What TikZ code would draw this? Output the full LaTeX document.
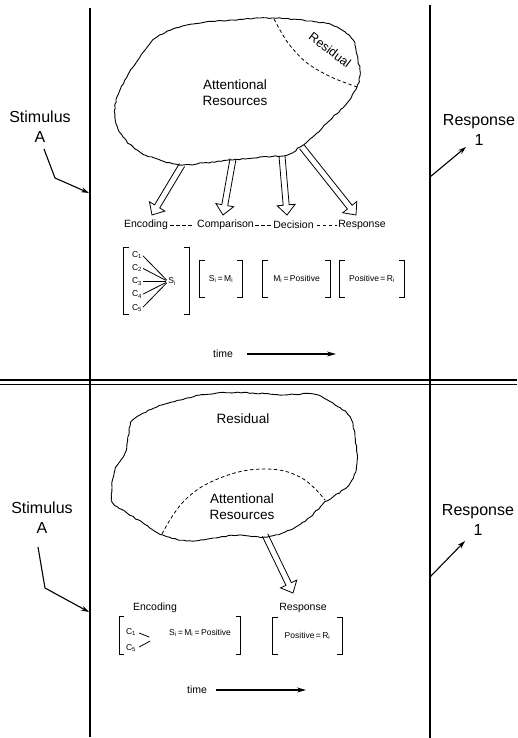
\documentclass[tikz,border=0pt]{standalone}
\usepackage{fontspec}
\setmainfont{Liberation Sans}
\usetikzlibrary{arrows.meta,calc,positioning,decorations.pathmorphing}

\newcommand{\sbs}[1]{\textsubscript{#1}}
\newcommand{\brk}[1]{%
  \draw[brkline] ([xshift=5pt]#1.north west) -| (#1.south west) -- ++(5pt,0);
  \draw[brkline] ([xshift=-5pt]#1.north east) -| (#1.south east) -- ++(-5pt,0);}

\tikzset{
  big/.style={font=\fontsize{16}{20}\selectfont, align=center, inner sep=0pt},
  mid/.style={font=\fontsize{13.5}{16}\selectfont, align=center, inner sep=0pt},
  lab/.style={font=\fontsize{10.5}{12}\selectfont, inner sep=0pt},
  small/.style={font=\fontsize{8.5}{10}\selectfont, inner sep=0pt},
  frame/.style={line width=1.1pt},
  brkline/.style={line width=1pt},
  pointer/.style={line width=1.1pt, -{Stealth[length=8pt,width=5pt]}},
  cloudline/.style={line width=0.9pt, line join=round, decorate,
    decoration={random steps, segment length=3pt, amplitude=0.6pt}},
  dashline/.style={line width=0.8pt, dash pattern=on 3.5pt off 2.5pt},
  hollowarrow/.style={line width=0.8pt, line join=miter, to path={
    let \p1=(\tikztostart), \p2=(\tikztotarget),
        \n1={atan2(\y2-\y1,\x2-\x1)}, \n2={veclen(\x2-\x1,\y2-\y1)} in
    ($(\p1)+(\n1+90:3pt)$) -- ($(\p1)+(\n1:\n2-10pt)+(\n1+90:3pt)$)
    -- ($(\p1)+(\n1:\n2-10pt)+(\n1+90:9pt)$) -- (\p2)
    -- ($(\p1)+(\n1:\n2-10pt)+(\n1-90:9pt)$)
    -- ($(\p1)+(\n1:\n2-10pt)+(\n1-90:3pt)$) -- ($(\p1)+(\n1-90:3pt)$)}}
}

\begin{document}
\begin{tikzpicture}[x=1pt, y=-1pt]
  \pgfmathsetseed{11}
  \useasboundingbox (0,0) rectangle (517,738);

  % frame
  \draw[frame] (90,8) -- (90,737);
  \draw[frame] (430,5) -- (430,738);
  \draw[line width=1.2pt] (0,380) -- (517,380);
  \draw[line width=0.9pt] (0,384.5) -- (517,384.5);

  % ---- upper panel ----
  \draw[cloudline] plot[smooth cycle, tension=0.6] coordinates {
    (157,37) (187,25) (233,20) (273,18) (317,22) (337,27) (353,40)
    (358,60) (360,73) (357,87) (347,103) (333,117) (317,133) (300,147)
    (287,155) (260,157) (233,160) (203,163) (182,165) (160,160)
    (140,152) (123,137) (115,117) (117,97) (127,77) (140,57)};
  \draw[dashline] plot[smooth] coordinates {(274,19) (288,43) (307,63) (331,77) (357,87)};
  \node[font=\fontsize{12.5}{14}\selectfont, inner sep=0pt, rotate=-37] (resid1) at (330,50) {Residual};
  \node[mid] (attn1) at (235,93) {Attentional\\Resources};

  \node[big] (stim1) at (40,127) {Stimulus\\A};
  \node[big] (resp1) at (479,130) {Response\\1};
  \coordinate (s1a) at (44,149);
  \coordinate (s1b) at (55,178);
  \coordinate (s1c) at (89,193);
  \draw[pointer] (s1a) -- (s1b) -- (s1c);
  \coordinate (r1a) at (430,177);
  \coordinate (r1b) at (466,147);
  \draw[pointer] (r1a) -- (r1b);

  \node[lab] (enc1) at (146,225) {Encoding};
  \node[lab] (cmp1) at (225.5,225) {Comparison};
  \node[lab] (dec1) at (293.5,225) {Decision};
  \node[lab] (rsp1) at (362,225) {Response};
  \draw[dashline] ([xshift=2pt]enc1.east) -- ([xshift=-3pt]cmp1.west);
  \draw[dashline] ([xshift=1pt]cmp1.east) -- ([xshift=-1pt]dec1.west);
  \draw[dashline] ([xshift=3pt]dec1.east) -- ([xshift=-1pt]rsp1.west);

  \coordinate (h1s) at (182,165);
  \coordinate (h1e) at (152,215);
  \coordinate (h2s) at (233,159);
  \coordinate (h2e) at (223,215);
  \coordinate (h3s) at (282,156);
  \coordinate (h3e) at (287,215);
  \coordinate (h4s) at (302,147);
  \coordinate (h4e) at (356,215);
  \draw[hollowarrow] (h1s) to (h1e);
  \draw[hollowarrow] (h2s) to (h2e);
  \draw[hollowarrow] (h3s) to (h3e);
  \draw[hollowarrow] (h4s) to (h4e);

  \node[inner sep=0pt, minimum width=65pt, minimum height=66pt] (b1) at (156.5,281) {};
  \foreach \k/\y in {1/255,2/268,3/281.5,4/294.5,5/308}
    \node[small] (c\k) at (137,\y) {C\sbs{\k}};
  \node[small] (si) at (172,281.5) {S\sbs{i}};
  \foreach \k in {1,...,5}
    \draw[line width=0.8pt, shorten <=1pt, shorten >=2pt] (c\k.east) -- (si.west);
  \node[small, minimum width=42pt, minimum height=37pt] (b2) at (221,279) {S\sbs{i}\,=\,M\sbs{i}};
  \node[small, minimum width=67pt, minimum height=37pt] (b3) at (296.5,279) {M\sbs{i}\,=\,Positive};
  \node[small, minimum width=64pt, minimum height=37pt] (b4) at (372,279) {Positive\,=\,R\sbs{i}};
  \brk{b1} \brk{b2} \brk{b3} \brk{b4}

  \node[lab] (time1) at (223,354) {time};
  \coordinate (time1end) at (336,354);
  \draw[line width=1.1pt, -{Stealth[length=9pt,width=5pt]}] ([xshift=14pt]time1.east) -- (time1end);

  % ---- lower panel ----
  \draw[cloudline] plot[smooth cycle, tension=0.6] coordinates {
    (133,420) (157,407) (187,398) (217,393) (253,393) (283,395) (313,394)
    (333,403) (350,417) (355,437) (357,463) (350,483) (333,497)
    (325,502) (310,517) (290,530) (267,537) (240,535) (213,538)
    (187,541) (163,535) (143,523) (127,513) (113,503) (112,487)
    (115,470) (125,453) (128,437)};
  \draw[dashline] plot[smooth, tension=0.7] coordinates {(162,534) (185,500) (220,478) (263,469) (300,477) (325,500)};
  \node[mid] (resid2) at (243,419) {Residual};
  \node[mid] (attn2) at (242,507) {Attentional\\Resources};

  \node[big] (stim2) at (42,518) {Stimulus\\A};
  \node[big] (resp2) at (478,520) {Response\\1};
  \coordinate (s2a) at (38,547);
  \coordinate (s2b) at (45,588);
  \coordinate (s2c) at (89,612);
  \draw[pointer] (s2a) -- (s2b) -- (s2c);
  \coordinate (r2a) at (430,577);
  \coordinate (r2b) at (465,541);
  \draw[pointer] (r2a) -- (r2b);

  \coordinate (h5s) at (265,535);
  \coordinate (h5e) at (293,593);
  \draw[hollowarrow] (h5s) to (h5e);

  \node[lab] (enc2) at (155,608) {Encoding};
  \node[lab] (rsp2) at (303,608) {Response};
  \node[inner sep=0pt, minimum width=121pt, minimum height=37pt] (b5) at (180,635.5) {};
  \node[small] (ca) at (131,632) {C\sbs{1}};
  \node[small] (cb) at (131,648) {C\sbs{5}};
  \node[small] (smp) at (200,633) {S\sbs{i}\,=\,M\sbs{i}\,=\,Positive};
  \draw[line width=0.8pt] ([xshift=3pt,yshift=-1pt]ca.east) -- ++(10,4);
  \draw[line width=0.8pt] ([xshift=3pt,yshift=1pt]cb.east) -- ++(11,-6);
  \node[small, minimum width=69pt, minimum height=37pt] (b6) at (307.5,636) {Positive\,=\,R\sbs{i}};
  \brk{b5} \brk{b6}

  \node[lab] (time2) at (197,690) {time};
  \coordinate (time2end) at (306,690);
  \draw[line width=1.1pt, -{Stealth[length=9pt,width=5pt]}] ([xshift=9pt]time2.east) -- (time2end);
\end{tikzpicture}
\end{document}
